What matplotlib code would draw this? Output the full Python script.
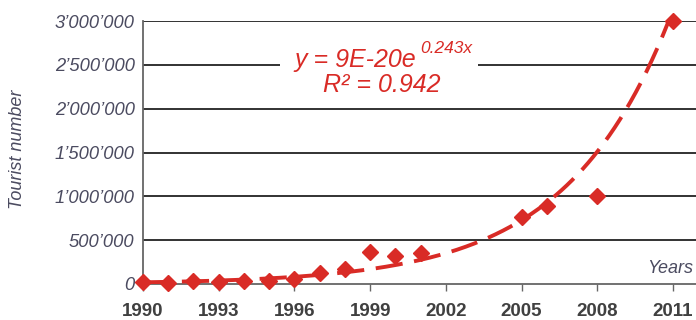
import numpy as np
import matplotlib
matplotlib.use("Agg")
import matplotlib.pyplot as plt
from matplotlib.patches import Rectangle

plt.rcParams['font.family'] = ['Liberation Sans', 'DejaVu Sans']

# tourist numbers
years = [1990, 1991, 1992, 1993, 1994, 1995, 1996, 1997, 1998, 1999, 2000, 2001,
         2005, 2006, 2008, 2011]
tourists = [20000, 8000, 38000, 26000, 34000, 38000, 54000, 122000, 168000, 361000, 319000, 350000,
            767000, 893000, 1003000, 3000000]

# exponential trendline (rate from the label, level read at 2011)
trend_rate = 0.243
trend_2011 = 3.13e6

y_ticks = [0, 500000, 1000000, 1500000, 2000000, 2500000, 3000000]
y_labels = ['0', '500’000', '1’000’000', '1’500’000', '2’000’000', '2’500’000', '3’000’000']
x_ticks = [1990, 1993, 1996, 1999, 2002, 2005, 2008, 2011]

red = '#d92b26'
label_col = '#4b4b60'

fig = plt.figure(figsize=(6.96, 3.2), dpi=100)
ax = fig.add_axes([143 / 696, 36 / 320, 1 - 143 / 696, (284 - 21) / 320])

ax.set_xlim(1990, 1990 + (696 - 143) / 25.24)
ax.set_ylim(0, 3000000)

for v in y_ticks[1:]:
    ax.axhline(v, color='#222222', linewidth=1.3, zorder=1)

# trendline
tx = np.linspace(1990, 2011, 300)
ty = trend_2011 * np.exp(trend_rate * (tx - 2011))
ax.plot(tx, ty, color=red, linewidth=2.8, dashes=(7, 3), zorder=3)

ax.plot(years, tourists, linestyle='none', marker='D', markersize=8, color=red,
        clip_on=False, zorder=4)

ax.set_yticks(y_ticks)
ax.set_yticklabels(y_labels, fontsize=13.2, style='italic', color=label_col)
ax.set_xticks(x_ticks)
ax.set_xticklabels([str(x) for x in x_ticks], fontsize=13.5, fontweight='bold', color='#404040')
ax.tick_params(axis='y', length=0, pad=6)
ax.tick_params(axis='x', length=5, width=1, color='#666666', pad=9, direction='out')

for s in ['top', 'right']:
    ax.spines[s].set_visible(False)
ax.spines['left'].set_color('#666666')
ax.spines['bottom'].set_color('#666666')
ax.spines['left'].set_linewidth(1.3)
ax.spines['bottom'].set_linewidth(1.3)

fig.text(18 / 696, 1 - 149 / 320, 'Tourist number', rotation=90, ha='center', va='center',
         fontsize=13, style='italic', color=label_col)
ax.text(0.995, 0.06, 'Years', transform=ax.transAxes, ha='right', va='center',
        fontsize=13, style='italic', color=label_col)

# white box behind the trendline equation
fig.patches.append(Rectangle((280 / 696, 1 - 95 / 320), 198 / 696, 55 / 320,
                             transform=fig.transFigure, facecolor='white', edgecolor='none',
                             zorder=2))
fig.text(416 / 696, 1 - 67 / 320, 'y = 9E-20e', ha='right', va='baseline', fontsize=18,
         style='italic', color=red, zorder=5)
fig.text(420 / 696, 1 - 53 / 320, '0.243x', ha='left', va='baseline', fontsize=12.5,
         style='italic', color=red, zorder=5)
fig.text(382 / 696, 1 - 92 / 320, 'R² = 0.942', ha='center', va='baseline', fontsize=18,
         style='italic', color=red, zorder=5)

fig.savefig('out.png', dpi=100)
